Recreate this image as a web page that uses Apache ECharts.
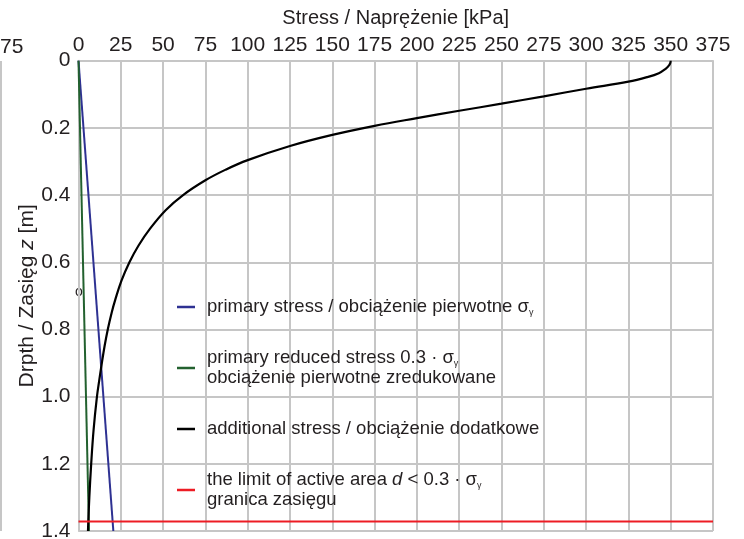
<!DOCTYPE html>
<html>
<head>
<meta charset="utf-8">
<title>Stress / Naprężenie</title>
<script src="https://cdn.jsdelivr.net/npm/echarts@6/dist/echarts.min.js"></script>
<style>
  html, body { margin: 0; padding: 0; background: #fff; }
  #chart { width: 744px; height: 539px; }
</style>
</head>
<body>
<div id="chart"></div>
<script>
// depth [m] and stress [kPa]
var primaryDepth = [0, 1.4];
var primaryStress = [0, 20.6];          // sigma_gamma
var reducedStress = [0, 6.2];           // 0.3 * sigma_gamma

var additionalDepth = [0, 0.006, 0.014, 0.024, 0.037, 0.049, 0.0625, 0.0835, 0.106, 0.128, 0.149, 0.171, 0.194, 0.221,
  0.254, 0.296, 0.325, 0.356, 0.4, 0.445, 0.5, 0.55, 0.6, 0.655, 0.712, 0.75, 0.8, 0.85, 0.9, 0.95, 1.0, 1.1, 1.2, 1.3, 1.372, 1.4];
var additionalStress = [350, 349.8, 349, 347, 343, 336, 325, 300, 275, 250, 225, 200, 175, 150,
  125, 100, 86.7, 75, 61.8, 51.5, 42.3, 35.5, 30.1, 25.4, 21.7, 19.6, 17.3, 15.4, 13.8, 12.3, 10.9, 8.9, 7.5, 6.4, 5.8, 5.6];

var limitDepth = 1.372;
var limitStress = [0, 375];

var stressTicks = [0, 375, 25];   // min, max, step
var depthTicks = [0, 1.4, 0.2];

function pairs(xs, ys) {
  var out = [];
  for (var i = 0; i < xs.length; i++) out.push([xs[i], ys[i]]);
  return out;
}

var txt = '#231f20';
var gridCol = '#c6c6c6';
var font = 'Liberation Sans, Arial, sans-serif';

var legendText = {
  primary: 'primary stress / obciążenie pierwotne σ{s|γ}',
  reduced: 'primary reduced stress 0.3 · σ{s|γ}\nobciążenie pierwotne zredukowane',
  additional: 'additional stress / obciążenie dodatkowe',
  limit: 'the limit of active area {i|d} < 0.3 · σ{s|γ}\ngranica zasięgu'
};

var myChart = echarts.init(document.getElementById('chart'));
myChart.setOption({
  animation: false,
  textStyle: { fontFamily: font },
  grid: { left: 78.5, right: 31, top: 60.7, bottom: 8, outerBoundsMode: 'none', containLabel: false },
  xAxis: {
    type: 'value', position: 'top',
    min: stressTicks[0], max: stressTicks[1], interval: stressTicks[2],
    name: 'Stress / Naprężenie [kPa]', nameLocation: 'middle', nameGap: 32,
    nameTextStyle: { color: txt, fontSize: 20, fontFamily: font },
    axisLine: { show: true, lineStyle: { color: gridCol, width: 2 } },
    axisTick: { show: false },
    axisLabel: { color: txt, fontSize: 21, margin: 5, fontFamily: font },
    splitLine: { show: true, lineStyle: { color: gridCol, width: 2 } }
  },
  yAxis: {
    type: 'value', inverse: true,
    min: depthTicks[0], max: depthTicks[1], interval: depthTicks[2],
    name: 'Drpth / Zasięg {i|z} [m]', nameLocation: 'middle', nameGap: 41, nameMoveOverlap: false,
    nameTextStyle: { color: txt, fontSize: 21, fontFamily: font,
      rich: { i: { fontStyle: 'italic', fontSize: 21, color: txt, fontFamily: font } } },
    axisLine: { show: true, lineStyle: { color: gridCol, width: 2 } },
    axisTick: { show: false },
    axisLabel: { color: txt, fontSize: 21, margin: 8, fontFamily: font,
      formatter: function (v) { return v === 0 ? '0' : v.toFixed(1); } },
    splitLine: { show: true, lineStyle: { color: gridCol, width: 2 } }
  },
  legend: {
    orient: 'vertical', left: 172, top: 292, itemGap: 31,
    icon: 'rect', itemWidth: 18, itemHeight: 2.5,
    data: ['primary', 'reduced', 'additional', 'limit'],
    formatter: function (name) { return legendText[name]; },
    textStyle: {
      color: txt, fontSize: 18.5, lineHeight: 20, fontFamily: font, padding: [0, 0, 0, 7],
      rich: {
        s: { fontSize: 9, verticalAlign: 'bottom', color: txt, fontFamily: font },
        i: { fontSize: 18.5, fontStyle: 'italic', color: txt, fontFamily: font }
      }
    }
  },
  graphic: [
    { type: 'text', left: 0, top: 37, style: { text: '75', fill: txt, font: '21px ' + font } },
    { type: 'line', shape: { x1: 1, y1: 61, x2: 1, y2: 531 }, style: { stroke: gridCol, lineWidth: 2 } },
    { type: 'text', left: 75, top: 285, style: { text: 'o', fill: txt, font: '14px ' + font } }
  ],
  series: [
    {
      name: 'primary', type: 'line', symbol: 'none',
      lineStyle: { color: '#2e3192', width: 2 }, itemStyle: { color: '#2e3192' },
      data: pairs(primaryStress, primaryDepth)
    },
    {
      name: 'reduced', type: 'line', symbol: 'none',
      lineStyle: { color: '#23612f', width: 2 }, itemStyle: { color: '#23612f' },
      data: pairs(reducedStress, primaryDepth)
    },
    {
      name: 'additional', type: 'line', symbol: 'none', smooth: 0.4,
      lineStyle: { color: '#000', width: 2.2 }, itemStyle: { color: '#000' },
      data: pairs(additionalStress, additionalDepth)
    },
    {
      name: 'limit', type: 'line', symbol: 'none',
      lineStyle: { color: '#ed1c24', width: 2 }, itemStyle: { color: '#ed1c24' },
      data: pairs(limitStress, [limitDepth, limitDepth])
    }
  ]
});
</script>
</body>
</html>
